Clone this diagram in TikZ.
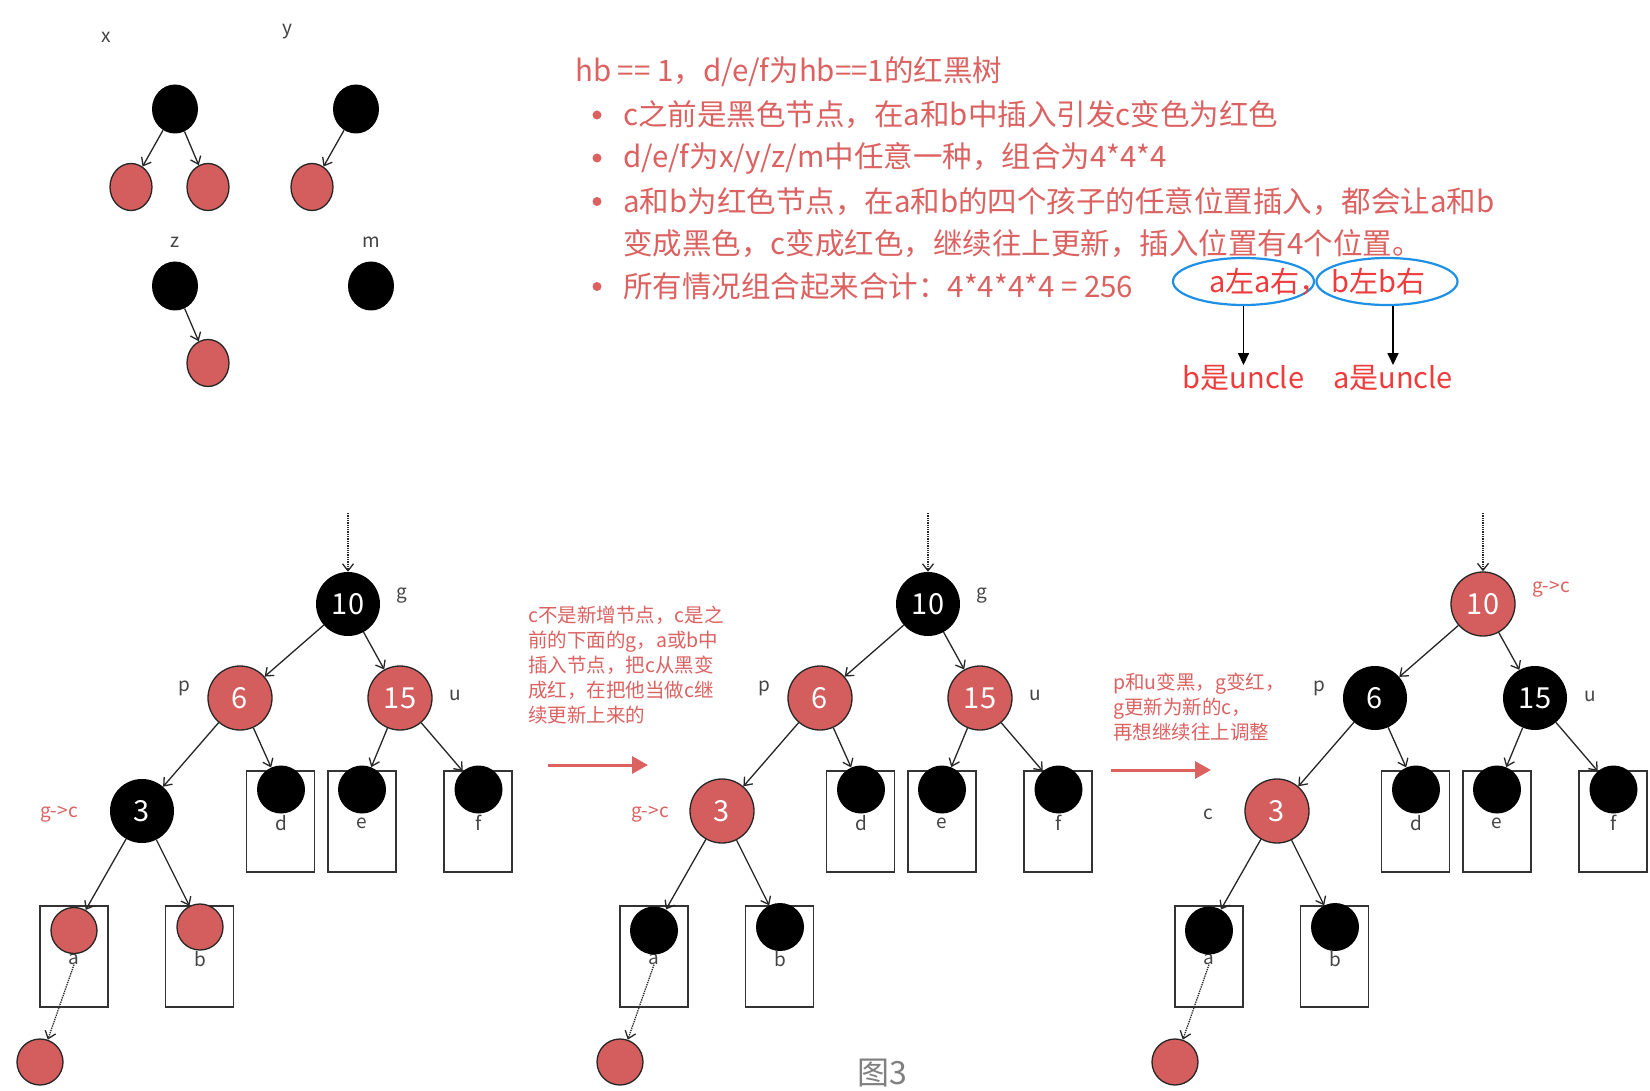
\documentclass[tikz,border=0pt]{standalone}
\usepackage{fontspec}
\setmainfont{Noto Sans CJK SC}
\usepackage{xcolor}
\definecolor{rbred}{HTML}{D45D5D}
\definecolor{notered}{HTML}{DC6262}
\definecolor{hired}{HTML}{EE3B3B}
\definecolor{ellblue}{HTML}{1E90E6}
\definecolor{lblgray}{HTML}{444444}
\definecolor{capgray}{HTML}{808080}
\usetikzlibrary{arrows.meta,shapes.geometric}

\newcommand{\rbtree}[6]{%
\begin{scope}[xshift=#1]
\node[leafbox] (#2abox) at (74,956.5) {};
\node[leafbox] (#2bbox) at (199.5,956.5) {};
\node[leafbox] (#2dbox) at (280.5,821.5) {};
\node[leafbox] (#2ebox) at (362,821.5) {};
\node[leafbox] (#2fbox) at (478,821.5) {};
\node[lbl] (#2alb) at (74,959) {a};
\node[lbl] (#2blb) at (200,959) {b};
\node[lbl] (#2dlb) at (281,823) {d};
\node[lbl] (#2elb) at (362,823) {e};
\node[lbl] (#2flb) at (478.5,823) {f};
\node[#3] (#2g) at (348,604) {10};
\node[#4] (#2p) at (240,698) {6};
\node[#4] (#2u) at (400,698) {15};
\node[#5] (#2c) at (142,811) {3};
\node[leafblk] (#2d) at (281,789.5) {};
\node[leafblk] (#2e) at (362,789.5) {};
\node[leafblk] (#2f) at (478.5,789.5) {};
\node[#6] (#2a) at (74,930.5) {};
\node[#6] (#2b) at (200,927) {};
\node[leafred] (#2new) at (40,1062) {};
\coordinate (#2top) at (348,513);
\draw[dotedge] (#2top) -- (#2g);
\draw[edge] (#2g) -- (#2p);
\draw[edge] (#2g) -- (#2u);
\draw[edge] (#2p) -- (#2c);
\draw[edge] (#2p) -- (#2d);
\draw[edge] (#2u) -- (#2e);
\draw[edge] (#2u) -- (#2f);
\draw[edge] (#2c) -- (#2a);
\draw[edge] (#2c) -- (#2b);
\draw[dotedge] (#2alb.south) -- (#2new);
\end{scope}}

\begin{document}
\begin{tikzpicture}[x=1pt,y=-1pt,
  every node/.style={inner sep=0pt},
  bigblk/.style={circle,fill=black,minimum size=64,text=white,font=\fontsize{29}{29}\selectfont},
  bigred/.style={bigblk,fill=rbred,draw=black!85,line width=1.3pt},
  leafblk/.style={circle,fill=black,minimum size=48},
  leafred/.style={circle,fill=rbred,draw=black!85,line width=1.3pt,minimum size=46},
  sblk/.style={ellipse,fill=black,minimum width=46,minimum height=49},
  sred/.style={ellipse,fill=rbred,draw=black!85,line width=1.3pt,minimum width=42,minimum height=47},
  leafbox/.style={draw=black!80,line width=1.3pt,minimum width=68,minimum height=101},
  lbl/.style={text=lblgray,font=\fontsize{19}{19}\selectfont},
  redlbl/.style={text=notered,font=\fontsize{19}{19}\selectfont},
  note/.style={text=notered,font=\fontsize{29.5}{43}\selectfont},
  anno/.style={text=notered,align=left,font=\fontsize{19.5}{25}\selectfont},
  hinote/.style={text=hired,font=\fontsize{29}{29}\selectfont},
  edge/.style={-{Straight Barb[length=7pt,width=11pt]},line width=1.3pt,draw=black!85},
  dotedge/.style={edge,densely dotted},
  bigarrow/.style={-{Triangle[length=16pt,width=17pt]},line width=3pt,draw=notered},
  ovalbox/.style={ellipse,draw=ellblue,line width=2.2pt,minimum width=141,minimum height=47}]
\path[fill=white,use as bounding box] (0,0) rectangle (1650,1091);

% the four trees of hb == 1
\node[lbl] (xname) at (106,37) {x};
\node[lbl] (yname) at (287,32) {y};
\node[lbl] (zname) at (175,242) {z};
\node[lbl] (mname) at (371,242) {m};
\node[sblk] (xroot) at (175,109) {};
\node[sred] (xleft) at (131,187) {};
\node[sred] (xright) at (208,187) {};
\node[sblk] (yroot) at (356,109) {};
\node[sred] (yleft) at (312,187) {};
\node[sblk] (zroot) at (175,286) {};
\node[sred] (zright) at (208,363) {};
\node[sblk] (mroot) at (371,286) {};
\draw[edge] (xroot) -- (xleft);
\draw[edge] (xroot) -- (xright);
\draw[edge] (yroot) -- (yleft);
\draw[edge] (zroot) -- (zright);

% notes
\node[note,anchor=west] (hbline) at (575,72) {hb == 1，d/e/f为hb==1的红黑树};
\foreach \yy in {115,158,201.5,286.5} \fill[notered] (597,\yy) circle (4.5);
\node[note,anchor=west] (item1) at (623,115) {c之前是黑色节点，在a和b中插入引发c变色为红色};
\node[note,anchor=west] (item2) at (623,158) {d/e/f为x/y/z/m中任意一种，组合为4*4*4};
\node[note,anchor=west] (item3) at (623,201.5) {a和b为红色节点，在a和b的四个孩子的任意位置插入，都会让a和b};
\node[note,anchor=west] (item3b) at (623,244) {变成黑色，c变成红色，继续往上更新，插入位置有4个位置。};
\node[note,anchor=west] (item4) at (623,286.5) {所有情况组合起来合计：4*4*4*4 = 256};
\node[ovalbox] (ovalA) at (1243.5,281.5) {};
\node[ovalbox] (ovalB) at (1387,281.5) {};
\node[hinote,anchor=west] (leftA) at (1209,281.5) {a左a右，};
\node[hinote,anchor=west] (leftB) at (1331,281.5) {b左b右};
\node[hinote] (uncB) at (1243.5,378) {b是uncle};
\node[hinote] (uncA) at (1393,378) {a是uncle};
\draw[-{Triangle[length=12pt,width=11pt]},line width=1.6pt] (ovalA.south) -- (uncB.north);
\draw[-{Triangle[length=12pt,width=11pt]},line width=1.6pt] (ovalB.south -| uncA) -- (uncA.north);

% three steps
\rbtree{0}{A}{bigblk}{bigred}{bigblk}{leafred}
\rbtree{580}{B}{bigblk}{bigred}{bigred}{leafblk}
\rbtree{1135}{C}{bigred}{bigblk}{bigred}{leafblk}

\node[lbl] (gA) at (402,596) {g};
\node[lbl] (pA) at (184,688) {p};
\node[lbl] (uA) at (455,695) {u};
\node[redlbl] (cA) at (59,814) {g->c};
\node[lbl] (gB) at (982,596) {g};
\node[lbl] (pB) at (764,688) {p};
\node[lbl] (uB) at (1035,695) {u};
\node[redlbl] (cB) at (650,814) {g->c};
\node[redlbl] (gC) at (1551,589) {g->c};
\node[lbl] (pC) at (1319,688) {p};
\node[lbl] (uC) at (1590,696) {u};
\node[lbl] (cC) at (1208,814) {c};

\node[anno,anchor=north west] (stepA) at (528,606) {c不是新增节点，c是之\\前的下面的g，a或b中\\插入节点，把c从黑变\\成红，在把他当做c继\\续更新上来的};
\node[anno,anchor=north west] (stepB) at (1113,673) {p和u变黑，g变红，\\g更新为新的c，\\再想继续往上调整};
\coordinate (goA) at (548,765);
\coordinate (toA) at (648,765);
\coordinate (goB) at (1111,770);
\coordinate (toB) at (1211,770);
\draw[bigarrow] (goA) -- (toA);
\draw[bigarrow] (goB) -- (toB);

\node[text=capgray,font=\fontsize{32}{32}\selectfont] (caption) at (882,1073) {图3};
\end{tikzpicture}
\end{document}
